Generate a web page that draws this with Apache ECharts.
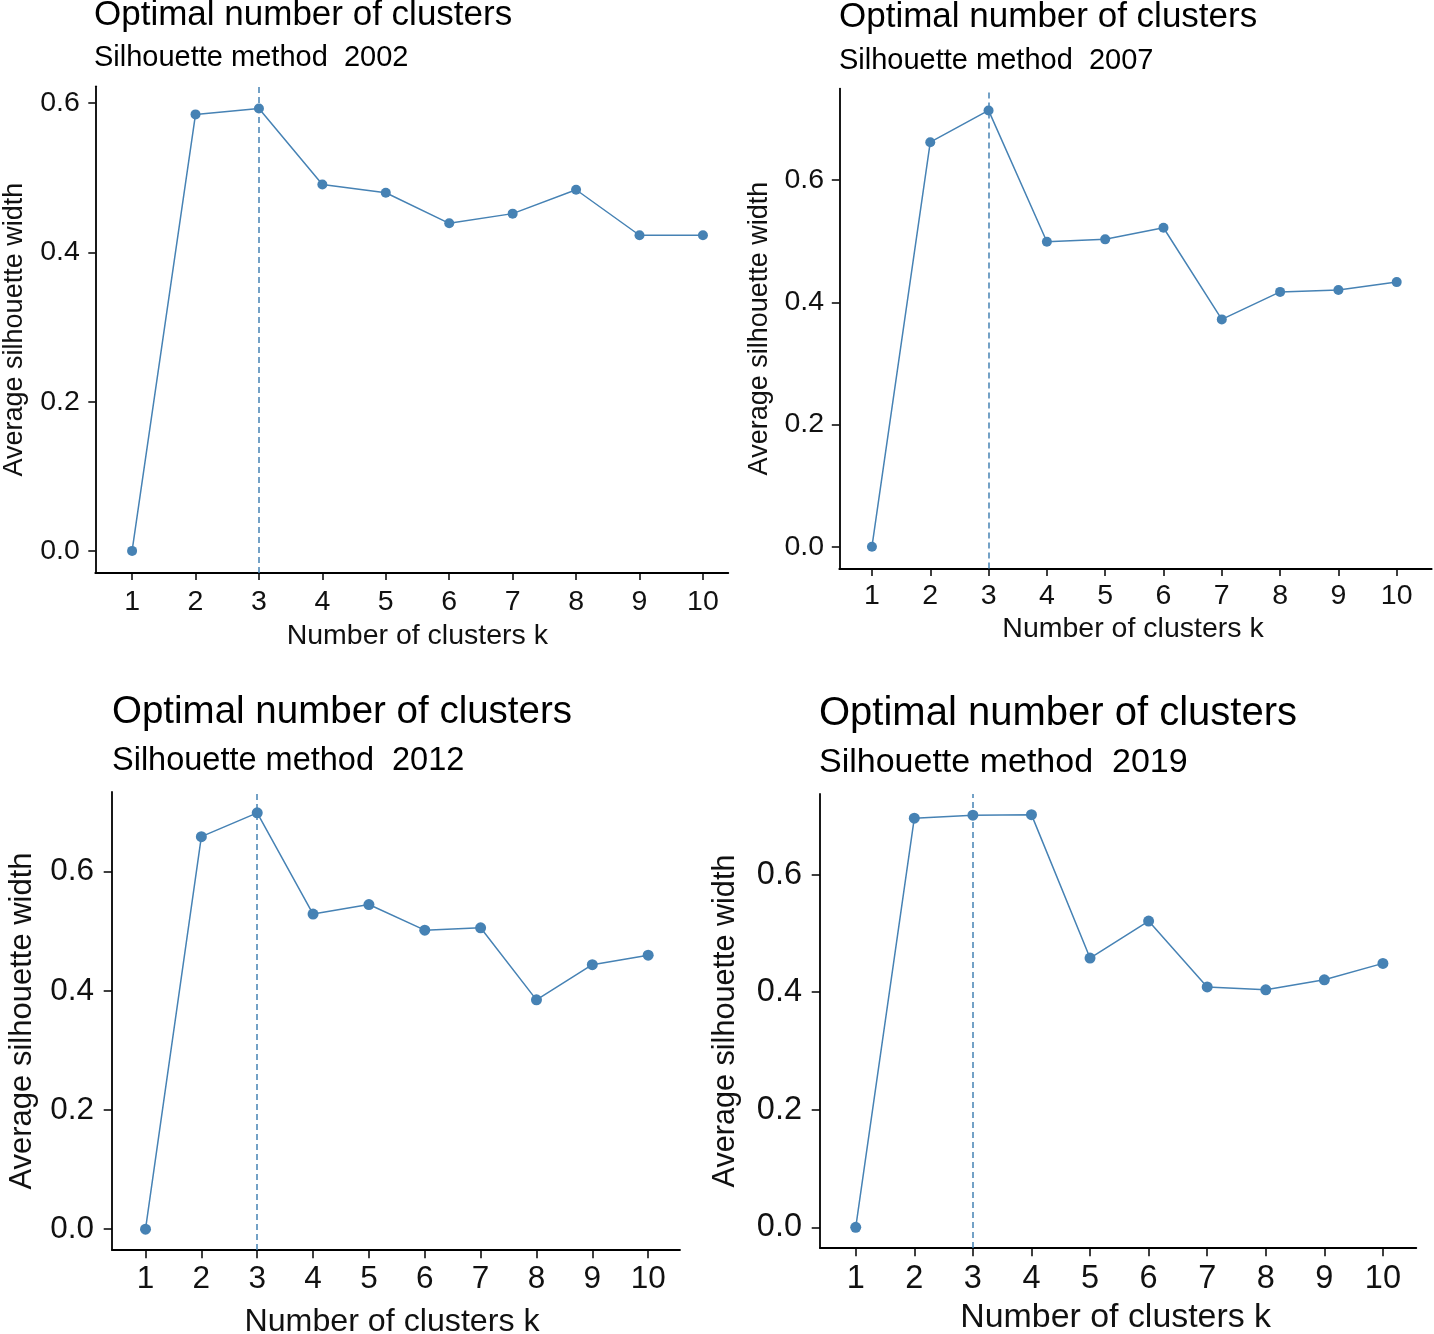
<!DOCTYPE html>
<html><head><meta charset="utf-8">
<script src="https://cdn.jsdelivr.net/npm/echarts@6/dist/echarts.min.js"></script>
<style>html,body{margin:0;padding:0;background:#fff}#c{width:1434px;height:1334px}</style>
</head><body><div id="c"></div>
<script>
// ---- data ----
const clusterK = [1, 2, 3, 4, 5, 6, 7, 8, 9, 10];
const years = ['2002', '2007', '2012', '2019'];
const sil2002 = [0, 0.585, 0.593, 0.491, 0.480, 0.439, 0.452, 0.484, 0.423, 0.423];
const sil2007 = [0, 0.662, 0.714, 0.499, 0.503, 0.522, 0.372, 0.417, 0.420, 0.433];
const sil2012 = [0, 0.659, 0.699, 0.529, 0.545, 0.502, 0.506, 0.385, 0.444, 0.460];
const sil2019 = [0, 0.696, 0.701, 0.702, 0.458, 0.521, 0.409, 0.404, 0.421, 0.449];
const optimalK = [3, 3, 3, 3];
const yTickValues = [0, 0.2, 0.4, 0.6];
const xTickValues = [1, 2, 3, 4, 5, 6, 7, 8, 9, 10];
const titleText = 'Optimal number of clusters';
const subtitlePrefix = 'Silhouette method  ';
const xAxisTitle = 'Number of clusters k';
const yAxisTitle = 'Average silhouette width';
const seriesValues = [sil2002, sil2007, sil2012, sil2019];

// ---- layout / style ----
const FONT = "'Liberation Sans', Arial, sans-serif";
const BLUE = '#4682B4';
const panels = [
  {left: 95.3, top: 86.3, right: 728.3, bottom: 573, xMin: 0.42, xMax: 10.4,
   fT: 35, fS: 29, fTick: 28.5, fX: 28.5, fY: 27, tLeft: 94, tTop: -2.3, gap: 11.2,
   xGap: 48.5, yGap: 67.5, lblY: 15.5, lblX: 14.3, tick: 7, sym: 10, xPad: [0, 0, 0, 11]},
  {left: 839.3, top: 88.6, right: 1431.7, bottom: 568.5, xMin: 0.44, xMax: 10.6,
   fT: 35, fS: 29, fTick: 28.5, fX: 28.5, fY: 27, tLeft: 839, tTop: 0, gap: 11.2,
   xGap: 46, yGap: 66.6, lblY: 15.3, lblX: 13, tick: 7.5, sym: 10, xPad: [0, 5, 0, 0]},
  {left: 112, top: 792, right: 680, bottom: 1250, xMin: 0.40, xMax: 10.57,
   fT: 38.5, fS: 32.5, fTick: 31.5, fX: 32.2, fY: 31, tLeft: 112, tTop: 693, gap: 12.6,
   xGap: 55.6, yGap: 74.2, lblY: 18, lblX: 13.8, tick: 8.3, sym: 11, xPad: [0, 8, 0, 0]},
  {left: 820, top: 794, right: 1416.3, bottom: 1248, xMin: 0.39, xMax: 10.57,
   fT: 40, fS: 34, fTick: 32.5, fX: 33.9, fY: 30.6, tLeft: 819, tTop: 694.4, gap: 11,
   xGap: 53, yGap: 79.4, lblY: 18, lblX: 14.5, tick: 8.3, sym: 11, xPad: [0, 5, 0, 0]}
];

const option = {
  animation: false,
  backgroundColor: '#fff',
  title: panels.map((p, i) => ({
    text: titleText,
    subtext: subtitlePrefix + years[i],
    left: p.tLeft, top: p.tTop, padding: 0, itemGap: p.gap,
    textStyle: {fontFamily: FONT, fontSize: p.fT, fontWeight: 'normal', color: '#000', lineHeight: p.fT},
    subtextStyle: {fontFamily: FONT, fontSize: p.fS, color: '#000', lineHeight: p.fS}
  })),
  grid: panels.map(p => ({
    left: p.left, top: p.top, width: p.right - p.left, height: p.bottom - p.top,
    containLabel: false, outerBoundsMode: 'none'
  })),
  xAxis: panels.map((p, i) => ({
    type: 'value', gridIndex: i, min: p.xMin, max: p.xMax,
    name: xAxisTitle, nameLocation: 'middle', nameGap: p.xGap,
    nameTextStyle: {fontFamily: FONT, fontSize: p.fX, color: '#111', lineHeight: p.fX, padding: p.xPad},
    axisLine: {show: true, onZero: false, lineStyle: {color: '#000', width: 1.8}},
    axisTick: {show: true, length: p.tick, customValues: xTickValues, lineStyle: {color: '#000', width: 1.5}},
    axisLabel: {customValues: xTickValues, margin: p.lblX, fontFamily: FONT, fontSize: p.fTick, color: '#111'},
    splitLine: {show: false}
  })),
  yAxis: panels.map((p, i) => {
    const mx = Math.max.apply(null, seriesValues[i]);
    return {
      type: 'value', gridIndex: i, min: -0.05 * mx, max: 1.05 * mx,
      name: yAxisTitle, nameLocation: 'middle', nameGap: p.yGap,
      nameTextStyle: {fontFamily: FONT, fontSize: p.fY, color: '#111', lineHeight: p.fY},
      axisLine: {show: true, onZero: false, lineStyle: {color: '#000', width: 1.8}},
      axisTick: {show: true, length: p.tick, customValues: yTickValues, lineStyle: {color: '#000', width: 1.5}},
      axisLabel: {customValues: yTickValues, formatter: v => Number(v).toFixed(1), margin: p.lblY,
        fontFamily: FONT, fontSize: p.fTick, color: '#111'},
      splitLine: {show: false}
    };
  }),
  series: panels.map((p, i) => ({
    type: 'line', xAxisIndex: i, yAxisIndex: i,
    data: clusterK.map((k, j) => [k, seriesValues[i][j]]),
    symbol: 'circle', symbolSize: p.sym, showSymbol: true,
    lineStyle: {color: BLUE, width: 1.5},
    itemStyle: {color: BLUE},
    emphasis: {disabled: true},
    markLine: {
      silent: true, symbol: ['none', 'none'], label: {show: false},
      lineStyle: {color: BLUE, type: [6, 4], width: 1.5},
      data: [{xAxis: optimalK[i]}]
    }
  }))
};

const chart = echarts.init(document.getElementById('c'), null, {renderer: 'canvas'});
chart.setOption(option);
</script>
</body></html>
